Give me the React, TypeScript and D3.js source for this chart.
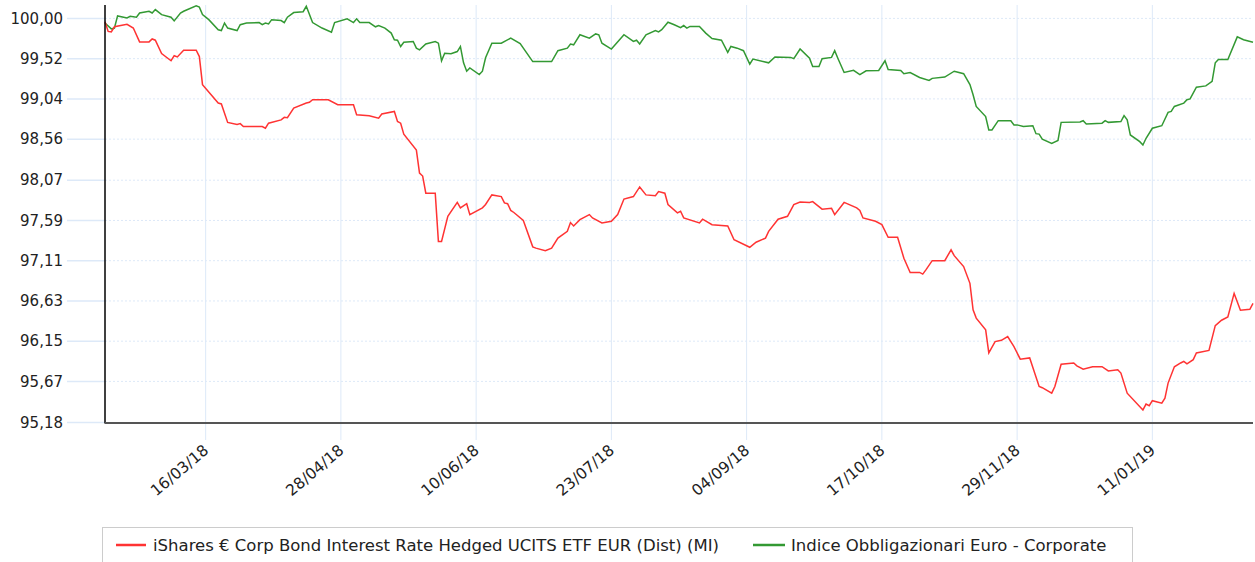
import React from 'react';
import * as d3 from 'd3';

// series 1: iShares ETF (red)
const redDates = [
  '12/02/18', '13/02/18', '14/02/18', '15/02/18', '19/02/18', '21/02/18', '23/02/18', '26/02/18', '27/02/18', '28/02/18',
  '02/03/18', '05/03/18', '06/03/18', '07/03/18', '09/03/18', '13/03/18', '14/03/18', '15/03/18', '20/03/18', '21/03/18',
  '23/03/18', '26/03/18', '27/03/18', '28/03/18', '03/04/18', '04/04/18', '05/04/18', '09/04/18', '10/04/18', '11/04/18',
  '13/04/18', '17/04/18', '18/04/18', '19/04/18', '24/04/18', '27/04/18', '02/05/18', '03/05/18', '07/05/18', '10/05/18',
  '11/05/18', '15/05/18', '16/05/18', '17/05/18', '18/05/18', '22/05/18', '23/05/18', '24/05/18', '25/05/18', '28/05/18',
  '29/05/18', '30/05/18', '01/06/18', '04/06/18', '05/06/18', '07/06/18', '08/06/18', '12/06/18', '13/06/18', '15/06/18',
  '18/06/18', '19/06/18', '20/06/18', '21/06/18', '22/06/18', '25/06/18', '28/06/18', '29/06/18', '02/07/18', '04/07/18',
  '06/07/18', '09/07/18', '10/07/18', '11/07/18', '13/07/18', '16/07/18', '17/07/18', '20/07/18', '23/07/18', '25/07/18',
  '27/07/18', '30/07/18', '01/08/18', '03/08/18', '06/08/18', '07/08/18', '09/08/18', '10/08/18', '13/08/18', '14/08/18',
  '15/08/18', '20/08/18', '21/08/18', '24/08/18', '29/08/18', '31/08/18', '05/09/18', '07/09/18', '10/09/18', '11/09/18',
  '14/09/18', '17/09/18', '19/09/18', '21/09/18', '24/09/18', '25/09/18', '28/09/18', '01/10/18', '02/10/18', '05/10/18',
  '09/10/18', '10/10/18', '11/10/18', '15/10/18', '17/10/18', '19/10/18', '22/10/18', '24/10/18', '26/10/18', '29/10/18',
  '30/10/18', '31/10/18', '02/11/18', '06/11/18', '08/11/18', '09/11/18', '12/11/18', '14/11/18', '15/11/18', '16/11/18',
  '19/11/18', '20/11/18', '22/11/18', '24/11/18', '26/11/18', '28/11/18', '30/11/18', '03/12/18', '06/12/18', '07/12/18',
  '10/12/18', '11/12/18', '13/12/18', '17/12/18', '18/12/18', '20/12/18', '23/12/18', '26/12/18', '28/12/18', '31/12/18',
  '01/01/19', '03/01/19', '08/01/19', '09/01/19', '10/01/19', '11/01/19', '14/01/19', '15/01/19', '16/01/19', '18/01/19',
  '20/01/19', '21/01/19', '22/01/19', '24/01/19', '25/01/19', '29/01/19', '31/01/19', '02/02/19', '04/02/19', '06/02/19',
  '08/02/19', '11/02/19', '12/02/19',
];
const redValues = [
  99.96, 99.845, 99.84, 99.9, 99.93, 99.885, 99.72, 99.72, 99.755, 99.74,
  99.58, 99.495, 99.555, 99.54, 99.62, 99.62, 99.545, 99.21, 98.99, 98.98,
  98.76, 98.735, 98.745, 98.71, 98.71, 98.69, 98.75, 98.79, 98.82, 98.815,
  98.93, 98.99, 99.0, 99.03, 99.03, 98.97, 98.97, 98.85, 98.84, 98.81,
  98.86, 98.89, 98.77, 98.75, 98.62, 98.43, 98.155, 98.12, 97.915, 97.915,
  97.34, 97.34, 97.64, 97.805, 97.74, 97.79, 97.66, 97.74, 97.78, 97.895,
  97.875, 97.8, 97.79, 97.71, 97.685, 97.59, 97.275, 97.26, 97.23, 97.26,
  97.38, 97.46, 97.565, 97.525, 97.6, 97.66, 97.62, 97.56, 97.58, 97.66,
  97.845, 97.875, 97.99, 97.895, 97.885, 97.935, 97.915, 97.78, 97.68, 97.7,
  97.62, 97.56, 97.605, 97.54, 97.525, 97.36, 97.27, 97.33, 97.38, 97.46,
  97.605, 97.64, 97.78, 97.81, 97.805, 97.815, 97.725, 97.735, 97.66, 97.805,
  97.74, 97.71, 97.62, 97.58, 97.54, 97.39, 97.39, 97.14, 96.97, 96.97,
  96.95, 97.0, 97.11, 97.11, 97.24, 97.17, 97.04, 96.84, 96.525, 96.425,
  96.285, 96.01, 96.145, 96.16, 96.205, 96.085, 95.935, 95.95, 95.61, 95.595,
  95.53, 95.61, 95.875, 95.89, 95.855, 95.815, 95.845, 95.845, 95.795, 95.81,
  95.77, 95.53, 95.33, 95.4, 95.38, 95.44, 95.41, 95.47, 95.65, 95.845,
  95.89, 95.91, 95.88, 95.93, 96.01, 96.04, 96.335, 96.4, 96.44, 96.72,
  96.52, 96.53, 96.6,
];

// series 2: index (green)
const greenDates = [
  '12/02/18', '14/02/18', '15/02/18', '16/02/18', '19/02/18', '20/02/18', '22/02/18', '23/02/18', '26/02/18', '27/02/18',
  '28/02/18', '02/03/18', '05/03/18', '06/03/18', '08/03/18', '09/03/18', '13/03/18', '14/03/18', '15/03/18', '17/03/18',
  '20/03/18', '21/03/18', '22/03/18', '23/03/18', '26/03/18', '27/03/18', '29/03/18', '02/04/18', '03/04/18', '04/04/18',
  '05/04/18', '06/04/18', '09/04/18', '10/04/18', '11/04/18', '13/04/18', '16/04/18', '17/04/18', '19/04/18', '22/04/18',
  '25/04/18', '26/04/18', '30/04/18', '02/05/18', '03/05/18', '04/05/18', '07/05/18', '09/05/18', '10/05/18', '12/05/18',
  '14/05/18', '15/05/18', '16/05/18', '17/05/18', '18/05/18', '21/05/18', '22/05/18', '23/05/18', '25/05/18', '28/05/18',
  '29/05/18', '30/05/18', '31/05/18', '02/06/18', '04/06/18', '05/06/18', '06/06/18', '07/06/18', '08/06/18', '11/06/18',
  '12/06/18', '13/06/18', '15/06/18', '18/06/18', '21/06/18', '24/06/18', '28/06/18', '03/07/18', '04/07/18', '06/07/18',
  '09/07/18', '10/07/18', '11/07/18', '13/07/18', '16/07/18', '18/07/18', '19/07/18', '20/07/18', '23/07/18', '27/07/18',
  '30/07/18', '31/07/18', '01/08/18', '03/08/18', '06/08/18', '07/08/18', '08/08/18', '10/08/18', '12/08/18', '14/08/18',
  '15/08/18', '16/08/18', '17/08/18', '20/08/18', '22/08/18', '24/08/18', '27/08/18', '29/08/18', '30/08/18', '01/09/18',
  '03/09/18', '05/09/18', '06/09/18', '11/09/18', '13/09/18', '18/09/18', '19/09/18', '21/09/18', '24/09/18', '25/09/18',
  '27/09/18', '28/09/18', '01/10/18', '02/10/18', '03/10/18', '05/10/18', '08/10/18', '10/10/18', '12/10/18', '16/10/18',
  '18/10/18', '19/10/18', '23/10/18', '24/10/18', '26/10/18', '29/10/18', '01/11/18', '02/11/18', '06/11/18', '09/11/18',
  '12/11/18', '14/11/18', '15/11/18', '16/11/18', '19/11/18', '20/11/18', '21/11/18', '23/11/18', '27/11/18', '28/11/18',
  '29/11/18', '01/12/18', '04/12/18', '05/12/18', '06/12/18', '07/12/18', '10/12/18', '12/12/18', '13/12/18', '19/12/18',
  '20/12/18', '21/12/18', '26/12/18', '27/12/18', '28/12/18', '01/01/19', '02/01/19', '03/01/19', '04/01/19', '07/01/19',
  '08/01/19', '09/01/19', '11/01/19', '14/01/19', '16/01/19', '17/01/19', '18/01/19', '21/01/19', '22/01/19', '23/01/19',
  '25/01/19', '28/01/19', '30/01/19', '31/01/19', '01/02/19', '04/02/19', '07/02/19', '09/02/19', '12/02/19',
];
const greenValues = [
  99.945, 99.875, 99.885, 100.03, 100.005, 100.025, 100.015, 100.065, 100.085, 100.065,
  100.105, 100.045, 100.015, 99.97, 100.065, 100.085, 100.15, 100.135, 100.045, 99.985,
  99.865, 99.855, 99.945, 99.885, 99.855, 99.925, 99.945, 99.95, 99.925, 99.945,
  99.935, 99.985, 99.975, 99.95, 100.015, 100.07, 100.08, 100.145, 99.95, 99.885,
  99.835, 99.95, 99.995, 99.95, 99.995, 99.95, 99.95, 99.9, 99.915, 99.885,
  99.825, 99.745, 99.74, 99.665, 99.715, 99.725, 99.645, 99.625, 99.695, 99.725,
  99.705, 99.495, 99.585, 99.58, 99.605, 99.665, 99.47, 99.37, 99.41, 99.33,
  99.37, 99.53, 99.705, 99.705, 99.765, 99.7, 99.485, 99.485, 99.485, 99.615,
  99.645, 99.695, 99.685, 99.805, 99.765, 99.815, 99.805, 99.705, 99.635, 99.805,
  99.725, 99.74, 99.695, 99.805, 99.855, 99.84, 99.865, 99.955, 99.925, 99.89,
  99.915, 99.885, 99.905, 99.905, 99.825, 99.76, 99.74, 99.595, 99.665, 99.645,
  99.615, 99.455, 99.515, 99.47, 99.54, 99.535, 99.52, 99.635, 99.525, 99.425,
  99.425, 99.52, 99.535, 99.615, 99.525, 99.355, 99.38, 99.33, 99.375, 99.38,
  99.495, 99.39, 99.38, 99.34, 99.355, 99.295, 99.26, 99.285, 99.3, 99.37,
  99.34, 99.21, 99.09, 98.95, 98.83, 98.67, 98.67, 98.78, 98.78, 98.73,
  98.73, 98.71, 98.72, 98.625, 98.62, 98.56, 98.51, 98.545, 98.76, 98.765,
  98.78, 98.74, 98.75, 98.78, 98.76, 98.77, 98.84, 98.79, 98.61, 98.53,
  98.49, 98.57, 98.69, 98.72, 98.88, 98.89, 98.95, 98.99, 99.03, 99.04,
  99.18, 99.195, 99.25, 99.47, 99.51, 99.51, 99.78, 99.745, 99.715,
];

const yTicks = [100.0, 99.52, 99.04, 98.56, 98.07, 97.59, 97.11, 96.63, 96.15, 95.67, 95.18];
const xTicks = ['16/03/18', '28/04/18', '10/06/18', '23/07/18', '04/09/18', '17/10/18', '29/11/18', '11/01/19'];
const xStart = '12/02/18';
const xEnd = '12/02/19';
const yMin = 95.18;
const yMax = 100.16;

const seriesNames = [
  'iShares € Corp Bond Interest Rate Hedged UCITS ETF EUR (Dist) (MI)',
  'Indice Obbligazionari Euro - Corporate',
];

const parse = d3.timeParse('%d/%m/%y');
const fmt = (v: number) => d3.format('.2f')(v).replace('.', ',');

const left = 105;
const right = 1253;
const top = 5;
const bottom = 422.5;
const font = '"DejaVu Sans", Verdana, sans-serif';

export default function App() {
  const x = d3.scaleTime().domain([parse(xStart) as Date, parse(xEnd) as Date]).range([left, right]);
  const y = d3.scaleLinear().domain([yMin, yMax]).range([bottom, top]);

  const line = d3.line<[Date, number]>()
    .x(d => x(d[0]))
    .y(d => y(d[1]));

  const redPts = redDates.map((d, i) => [parse(d) as Date, redValues[i]] as [Date, number]);
  const greenPts = greenDates.map((d, i) => [parse(d) as Date, greenValues[i]] as [Date, number]);

  return (
    <div>
      <style>{'body{margin:0}'}</style>
      <svg width={1255} height={562} style={{ display: 'block', fontFamily: font }}>
        <rect width={1255} height={562} fill="#fff" />

        {/* vertical grid */}
        {xTicks.map(t => (
          <line key={t} x1={x(parse(t) as Date)} x2={x(parse(t) as Date)} y1={top} y2={440}
            stroke="#dde9f8" strokeWidth={1} />
        ))}

        {/* horizontal grid */}
        {yTicks.map(t => (
          <g key={t}>
            <line x1={67} x2={left} y1={y(t)} y2={y(t)} stroke="#dde9f8" strokeWidth={1.5} />
            <line x1={left} x2={right} y1={y(t)} y2={y(t)} stroke="#dde9f8" strokeWidth={1} strokeDasharray="2,2" />
            <text x={63} y={y(t)} dy="0.35em" textAnchor="end" fontSize={15} fill="#222">{fmt(t)}</text>
          </g>
        ))}

        <path d={line(greenPts) || ''} fill="none" stroke="#339933" strokeWidth={1.5} />
        <path d={line(redPts) || ''} fill="none" stroke="#ff3333" strokeWidth={1.5} />

        {/* axes */}
        <line x1={left} x2={left} y1={top} y2={bottom + 1} stroke="#000" strokeWidth={1.5} />
        <line x1={left} x2={right} y1={bottom + 0.5} y2={bottom + 0.5} stroke="#555" strokeWidth={2} />

        {xTicks.map(t => (
          <text key={t} transform={`translate(${x(parse(t) as Date) + 4},452) rotate(-40)`}
            textAnchor="end" fontSize={15.5} fill="#222">{t}</text>
        ))}

        {/* legend */}
        <rect x={102.5} y={527.5} width={1030} height={60} fill="#fff" stroke="#ccc" />
        <line x1={116} x2={146} y1={545} y2={545} stroke="#ff3333" strokeWidth={2.5} />
        <text x={153} y={550.5} fontSize={16.5} fill="#222">{seriesNames[0]}</text>
        <line x1={753} x2={785} y1={545} y2={545} stroke="#339933" strokeWidth={2.5} />
        <text x={791} y={550.5} fontSize={16.5} fill="#222">{seriesNames[1]}</text>
      </svg>
    </div>
  );
}
